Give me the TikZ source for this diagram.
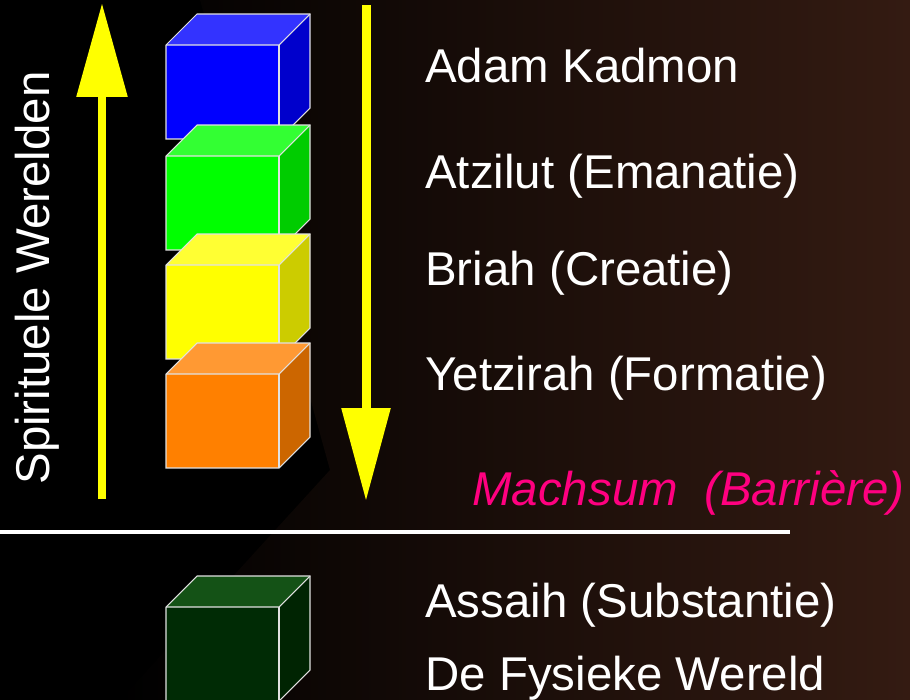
\documentclass[tikz,border=0pt]{standalone}
\usepackage{fontspec}
\setmainfont{Liberation Sans}
\usepackage{xcolor}
\usepackage{tikz}
\usetikzlibrary{arrows.meta}

\definecolor{bgbrown}{RGB}{52,27,18}
\definecolor{geel}{RGB}{255,255,0}
\definecolor{roze}{RGB}{255,0,128}
\definecolor{rand}{RGB}{225,225,225}
\definecolor{blauwvoor}{RGB}{0,0,255}
\definecolor{blauwtop}{RGB}{51,51,255}
\definecolor{blauwzij}{RGB}{0,0,204}
\definecolor{groenvoor}{RGB}{0,255,0}
\definecolor{groentop}{RGB}{51,255,51}
\definecolor{groenzij}{RGB}{0,204,0}
\definecolor{geeltop}{RGB}{255,255,51}
\definecolor{geelzij}{RGB}{204,204,0}
\definecolor{oranjevoor}{RGB}{255,128,0}
\definecolor{oranjetop}{RGB}{255,153,51}
\definecolor{oranjezij}{RGB}{204,102,0}
\definecolor{donkervoor}{RGB}{0,43,5}
\definecolor{donkertop}{RGB}{20,82,22}
\definecolor{donkerzij}{RGB}{0,36,2}

% cube: x, y of front top left corner, front, top, side colour
\newcommand{\kubus}[5]{%
	\fill[#3] (#1,#2) rectangle ++(113,94);
	\fill[#4] (#1,#2) -- ++(31,-31) -- ++(113,0) -- ++(-31,31) -- cycle;
	\fill[#5] (#1+113,#2) -- ++(31,-31) -- ++(0,94) -- ++(-31,31) -- cycle;
	\draw[rand,line width=0.6pt] (#1,#2+94) -- (#1,#2) -- ++(31,-31) -- ++(113,0) -- ++(0,94) -- ++(-31,31) -- cycle;
	\draw[rand,line width=0.6pt] (#1,#2) -- ++(113,0) -- ++(31,-31);
	\draw[rand,line width=0.6pt] (#1+113,#2) -- ++(0,94);
}

\begin{document}
\begin{tikzpicture}[line cap=butt,line join=miter,x=0.02cm,y=-0.02cm,
	wereld/.style={text=white,anchor=base west,inner sep=0pt,font=\fontsize{27}{32}\selectfont},
	pijl/.style={geel,line width=0.18cm}]
	\useasboundingbox (0,0) rectangle (910,700);
	\clip (0,0) rectangle (910,700);
	\fill[black] (0,0) rectangle (910,700);
	% background
	\shade[left color=black,right color=bgbrown] (200,0) -- (910,0) -- (910,700) -- (120,700) -- (330,470) -- cycle;
	% arrows
	\coordinate (opbeneden) at (102,499);
	\coordinate (opboven) at (102,3);
	\coordinate (neerboven) at (366,5);
	\coordinate (neerbeneden) at (366,501);
	\draw [pijl,-{Triangle[length=1.88cm,width=0.98cm]}] (opbeneden) -- (opboven);
	\draw [pijl,-{Triangle[length=1.86cm,width=0.94cm]}] (neerboven) -- (neerbeneden);
	% cubes
	\kubus{166}{45}{blauwvoor}{blauwtop}{blauwzij}
	\kubus{166}{156}{groenvoor}{groentop}{groenzij}
	\kubus{166}{265}{geel}{geeltop}{geelzij}
	\kubus{166}{374}{oranjevoor}{oranjetop}{oranjezij}
	\kubus{166}{607}{donkervoor}{donkertop}{donkerzij}
	% barrier
	\coordinate (grenslinks) at (0,532);
	\coordinate (grensrechts) at (790,532);
	\draw [white,line width=0.08cm] (grenslinks) -- (grensrechts);
	% labels
	\node[wereld,rotate=90,anchor=base] (spiritueel) at (50,278) {Spirituele Werelden};
	\node[wereld] (adam) at (425,82) {Adam Kadmon};
	\node[wereld] (atzilut) at (425,188) {Atzilut (Emanatie)};
	\node[wereld] (briah) at (425,285) {Briah (Creatie)};
	\node[wereld] (yetzirah) at (425,390) {Yetzirah (Formatie)};
	\node[wereld,text=roze,font=\fontsize{27}{32}\selectfont\itshape] (machsum) at (472,505) {Machsum\ \ (Barrière)};
	\node[wereld] (assaih) at (425,617) {Assaih (Substantie)};
	\node[wereld] (fysiek) at (425,690) {De Fysieke Wereld};
\end{tikzpicture}
\end{document}
